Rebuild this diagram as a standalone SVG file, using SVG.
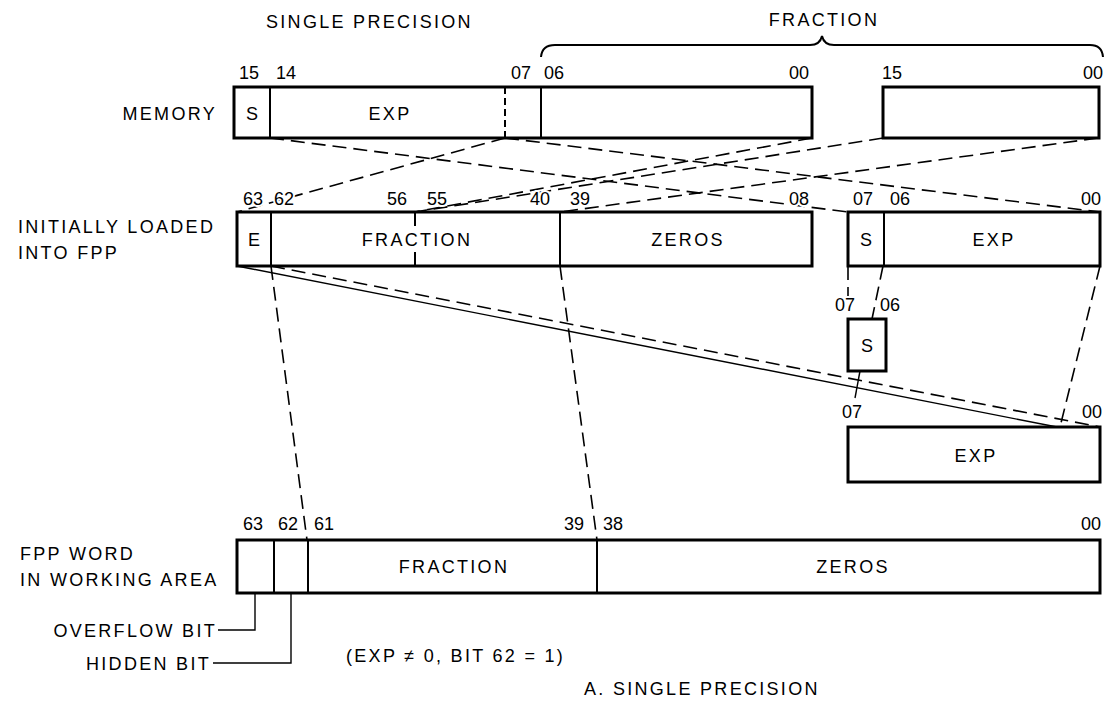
<svg xmlns="http://www.w3.org/2000/svg" width="1107" height="704" viewBox="0 0 1107 704">
<style>
text{font-family:"Liberation Sans",Arial,Helvetica,sans-serif;font-size:18px;fill:#000}
.w{letter-spacing:2.3px}
.e{text-anchor:end}
.m{text-anchor:middle}
.n{paint-order:stroke;stroke:#fff;stroke-width:4px;stroke-linejoin:round}
.box{fill:#fff;stroke:#000;stroke-width:3}
.dv{stroke:#000;stroke-width:2;fill:none}
.dd{stroke:#000;stroke-width:2;stroke-dasharray:7 4;fill:none}
.cn{stroke:#000;stroke-width:1.6;stroke-dasharray:14 7;fill:none}
.sl{stroke:#000;stroke-width:1.4;fill:none}
</style>
<rect width="1107" height="704" fill="#fff"/>
<g id="connectors">
<line class="cn" x1="270" y1="138" x2="848" y2="212"/>
<line class="cn" x1="505" y1="138" x2="237" y2="212"/>
<line class="cn" x1="505" y1="138" x2="1100" y2="212"/>
<line class="cn" x1="812" y1="138" x2="415" y2="212"/>
<line class="cn" x1="883" y1="138" x2="415" y2="212"/>
<line class="cn" x1="1098" y1="138" x2="560" y2="212"/>
<line class="cn" x1="848" y1="266" x2="848" y2="296"/>
<line class="cn" x1="883" y1="266" x2="872" y2="319"/>
<line class="cn" x1="1100" y1="266" x2="1060" y2="427"/>
<line class="sl" x1="237" y1="266" x2="1057" y2="427"/>
<line class="cn" x1="271" y1="266" x2="1100" y2="427"/>
<line class="sl" x1="860" y1="371" x2="855" y2="398"/>
<line class="cn" x1="271" y1="266" x2="307" y2="540"/>
<line class="cn" x1="560" y1="266" x2="597" y2="540"/>
<polyline class="sl" points="255,593 255,630 218,630"/>
<polyline class="sl" points="291,593 291,663 213,663"/>
</g>
<g id="titles">
<text class="w" x="266" y="28">SINGLE PRECISION</text>
<text class="w m" x="824" y="26">FRACTION</text>
<path class="dv" d="M541,57 Q542,45 555,45 L810,45 Q820,45 822,36 Q824,45 834,45 L1090,45 Q1102,45 1103,57"/>
</g>
<g id="memory">
<text class="w e" x="217" y="120">MEMORY</text>
<rect class="box" x="234" y="87" width="578" height="51"/>
<line class="dv" x1="270" y1="87" x2="270" y2="138"/>
<line class="dd" x1="505" y1="87" x2="505" y2="138"/>
<line class="dv" x1="541" y1="87" x2="541" y2="138"/>
<text class="m" x="252" y="120">S</text>
<text class="m w" x="390" y="120">EXP</text>
<text class="n" x="239" y="79">15</text>
<text class="n" x="276" y="79">14</text>
<text class="n" x="511" y="79">07</text>
<text class="n" x="544" y="79">06</text>
<text class="n e" x="809" y="79">00</text>
</g>
<g id="memory2">
<rect class="box" x="883" y="87" width="216" height="51"/>
<text class="n" x="882" y="79">15</text>
<text class="n e" x="1103" y="79">00</text>
</g>
<g id="loaded">
<text class="w" x="18" y="233">INITIALLY LOADED</text>
<text class="w" x="18" y="259">INTO FPP</text>
<rect class="box" x="237" y="212" width="575" height="54"/>
<line class="dv" x1="271" y1="212" x2="271" y2="266"/>
<line class="dv" x1="415" y1="212" x2="415" y2="226"/>
<line class="dv" x1="415" y1="252" x2="415" y2="266"/>
<line class="dv" x1="560" y1="212" x2="560" y2="266"/>
<text class="m" x="254" y="246">E</text>
<text class="m w" x="417" y="246">FRACTION</text>
<text class="m w" x="688" y="246">ZEROS</text>
<text class="n" x="243" y="205">63</text>
<text class="n" x="274" y="205">62</text>
<text class="n" x="387" y="205">56</text>
<text class="n" x="427" y="205">55</text>
<text class="n" x="530" y="205">40</text>
<text class="n" x="570" y="205">39</text>
<text class="n e" x="809" y="205">08</text>
</g>
<g id="loaded2">
<rect class="box" x="848" y="212" width="252" height="54"/>
<line class="dv" x1="884" y1="212" x2="884" y2="266"/>
<text class="m" x="866" y="246">S</text>
<text class="m w" x="994" y="246">EXP</text>
<text class="n" x="853" y="205">07</text>
<text class="n" x="890" y="205">06</text>
<text class="n e" x="1101" y="205">00</text>
</g>
<g id="sign">
<rect class="box" x="848" y="319" width="38" height="52"/>
<text class="m" x="867" y="352">S</text>
<text class="n" x="835" y="311">07</text>
<text class="n" x="880" y="311">06</text>
</g>
<g id="exponent">
<rect class="box" x="848" y="427" width="252" height="55"/>
<text class="m w" x="976" y="462">EXP</text>
<text class="n" x="842" y="418">07</text>
<text class="n e" x="1102" y="418">00</text>
</g>
<g id="working">
<text class="w" x="20" y="560">FPP WORD</text>
<text class="w" x="20" y="586">IN WORKING AREA</text>
<rect class="box" x="237" y="540" width="863" height="53"/>
<line class="dv" x1="274" y1="540" x2="274" y2="593"/>
<line class="dv" x1="308" y1="540" x2="308" y2="593"/>
<line class="dv" x1="597" y1="540" x2="597" y2="593"/>
<text class="m w" x="454" y="573">FRACTION</text>
<text class="m w" x="853" y="573">ZEROS</text>
<text class="n" x="243" y="530">63</text>
<text class="n" x="278" y="530">62</text>
<text class="n" x="314" y="530">61</text>
<text class="n" x="564" y="530">39</text>
<text class="n" x="603" y="530">38</text>
<text class="n e" x="1101" y="530">00</text>
</g>
<g id="notes">
<text class="w e" x="217" y="637">OVERFLOW BIT</text>
<text class="w e" x="211" y="670">HIDDEN BIT</text>
<text class="w" x="346" y="662">(EXP ≠ 0, BIT 62 = 1)</text>
<text class="w" x="584" y="695">A. SINGLE PRECISION</text>
</g>
</svg>
